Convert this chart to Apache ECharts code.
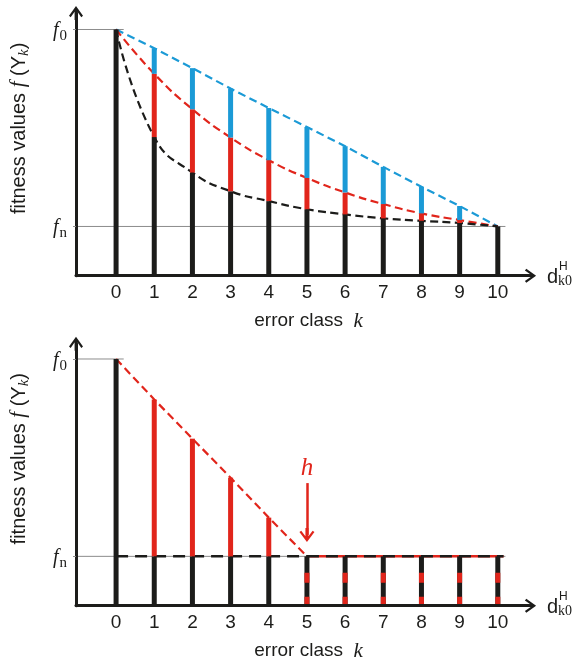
<!DOCTYPE html>
<html><head><meta charset="utf-8">
<script src="https://cdn.jsdelivr.net/npm/echarts@6/dist/echarts.min.js"></script>
<style>html,body{margin:0;padding:0;background:#fff}#c{width:574px;height:666px}</style>
</head><body><div id="c"></div>
<script>
// ---- data ----
const kValues = [0, 1, 2, 3, 4, 5, 6, 7, 8, 9, 10];
const tickLabels = ['0', '1', '2', '3', '4', '5', '6', '7', '8', '9', '10'];
const f0 = 10;
const fn = 2;
// top panel
const topBlue  = [10, 9.24, 8.43, 7.60, 6.81, 6.04, 5.26, 4.42, 3.61, 2.83, 2.0];
const topRed   = [10, 8.20, 6.76, 5.61, 4.69, 3.97, 3.38, 2.91, 2.53, 2.26, 2.0];
const topBlack = [10, 5.63, 4.19, 3.43, 3.03, 2.70, 2.49, 2.33, 2.23, 2.14, 2.0];
// bottom panel
const botK   = [0, 1, 2, 3, 4, 5];
const botRed = [10, 8.36, 6.77, 5.19, 3.57, 2.0];
const hIndex = 5;
const hArrow = [4.97, 2.87];

// ---- style ----
const BLACK = '#1c1c1a', RED = '#e1251b', BLUE = '#1b9ad6', GRAY = '#8c8c8c';
const SANS = '"Liberation Sans", Arial, sans-serif';
const SERIF = '"Liberation Serif", "Times New Roman", serif';
const CHEV = 'path://M50,0 L100,70 L88,80 L50,26 L12,80 L0,70 Z M40,20 L60,20 L60,100 L40,100 Z';
const xMin = -1.05, xMax = 10.82;

function xAxisCfg(gi) {
  return {
    gridIndex: gi, type: 'value', min: xMin, max: xMax, z: 10,
    axisLine: { show: true, onZero: false, symbol: ['none', CHEV], symbolSize: [15, 14], lineStyle: { color: BLACK, width: 3 } },
    axisTick: { show: false }, splitLine: { show: false },
    axisLabel: { customValues: kValues, formatter: v => tickLabels[Math.round(v)], color: BLACK, fontFamily: SANS, fontSize: 19, margin: 8 },
    name: '{t|error class  }{k|k}', nameLocation: 'middle', nameGap: 35,
    nameTextStyle: { padding: [0, 0, 0, 12], rich: {
      t: { fontFamily: SANS, fontSize: 19, color: BLACK },
      k: { fontFamily: SERIF, fontStyle: 'italic', fontSize: 21, color: BLACK } } }
  };
}
function yAxisCfg(gi, yMax) {
  return {
    gridIndex: gi, type: 'value', min: 0, max: yMax, z: 10,
    axisLine: { show: true, onZero: false, symbol: ['none', CHEV], symbolSize: [15, 14], lineStyle: { color: BLACK, width: 3 } },
    axisTick: { show: true, customValues: [fn, f0], length: 3, lineStyle: { color: GRAY, width: 1 } },
    splitLine: { show: false },
    axisLabel: { customValues: [fn, f0], margin: 9,
      formatter: v => (v === f0 ? '{f|f}{s|0}' : '{f|f}{s|n}'),
      rich: {
        f: { fontFamily: SERIF, fontStyle: 'italic', fontSize: 20, color: BLACK, verticalAlign: 'bottom', padding: [6, 0, 3, 0] },
        s: { fontFamily: SERIF, fontSize: 15, color: BLACK, verticalAlign: 'bottom', padding: [0, 0, 0, 1] } } },
    name: '{t|fitness values }{f|f}{t| (Y}{k|k}{t|)}', nameLocation: 'middle', nameRotate: 90, nameGap: 44,
    nameTextStyle: { padding: [0, 0, 0, 32], rich: {
      t: { fontFamily: SANS, fontSize: 20, color: BLACK, verticalAlign: 'bottom', padding: [0, 0, 3, 0] },
      f: { fontFamily: SERIF, fontStyle: 'italic', fontSize: 21, color: BLACK, verticalAlign: 'bottom', padding: [0, 0, 3, 0] },
      k: { fontFamily: SERIF, fontStyle: 'italic', fontSize: 15, color: BLACK, verticalAlign: 'bottom' } } }
  };
}
function refLine(gi, y, xEnd) {
  return { type: 'line', xAxisIndex: gi, yAxisIndex: gi, data: [[xMin, y], [xEnd, y]], symbol: 'none', silent: true,
    lineStyle: { color: GRAY, width: 1 }, z: 1 };
}
function dashLine(gi, xs, ys, color, smooth, dash, z, width) {
  return { type: 'line', xAxisIndex: gi, yAxisIndex: gi, data: xs.map((x, i) => [x, ys[i]]), symbol: 'none', silent: true,
    smooth: smooth, lineStyle: { color: color, width: width || 2.2, type: dash }, z: z };
}
function barSeries(gi, data, color) {
  return { type: 'custom', xAxisIndex: gi, yAxisIndex: gi, silent: true, z: 4, data: data,
    encode: { x: 0, y: [1, 2] },
    renderItem: (params, api) => {
      const k = api.value(0);
      const p0 = api.coord([k, api.value(1)]), p1 = api.coord([k, api.value(2)]);
      return { type: 'rect', shape: { x: p0[0] - 2.5, y: p1[1], width: 5, height: p0[1] - p1[1] }, style: { fill: color } };
    } };
}
function seg(lo, hi) {
  const out = [];
  kValues.forEach((k, i) => { if (hi[i] > lo[i] + 1e-6) out.push([k, lo[i], hi[i]]); });
  return out;
}
const zeros = kValues.map(() => 0);

// bottom panel bars
const botBlackSolid = [[0, 0, f0]];
const botRedBars = [];
for (let i = 1; i < hIndex; i++) { botBlackSolid.push([kValues[i], 0, fn]); botRedBars.push([kValues[i], fn, botRed[i]]); }
const botDashed = kValues.filter(k => k >= hIndex).map(k => [k, fn]);

const chart = echarts.init(document.getElementById('c'), null, { renderer: 'canvas' });
chart.setOption({
  animation: false,
  backgroundColor: '#fff',
  grid: [
    { left: 74.8, top: 13, width: 454.3, height: 262.7 },
    { left: 74.8, top: 343.7, width: 454.3, height: 262 }
  ],
  xAxis: [xAxisCfg(0), xAxisCfg(1)],
  yAxis: [yAxisCfg(0, 10.67), yAxisCfg(1, 10.62)],
  series: [
    // top panel
    refLine(0, f0, 0.2),
    refLine(0, fn, 10.2),
    dashLine(0, kValues, topBlue, BLUE, false, [8, 4.5], 2),
    dashLine(0, kValues, topRed, RED, 0.5, [8, 4.5], 2),
    dashLine(0, kValues, topBlack, BLACK, 0.5, [8, 4.5], 2),
    barSeries(0, seg(zeros, topBlack), BLACK),
    barSeries(0, seg(topBlack, topRed), RED),
    barSeries(0, seg(topRed, topBlue), BLUE),
    // bottom panel
    refLine(1, f0, 0.2),
    refLine(1, fn, 10.2),
    dashLine(1, [0, hIndex], [fn, fn], BLACK, false, [12, 7], 3, 2.5),
    dashLine(1, [hIndex, 10.15], [fn, fn], RED, false, 'solid', 3, 2.5),
    dashLine(1, [hIndex, 10.15], [fn, fn], BLACK, false, [12, 7], 3, 2.5),
    Object.assign(dashLine(1, botK, botRed, RED, false, [8, 4.5], 2), {
      markLine: {
        silent: true, symbol: ['none', CHEV], symbolSize: [15, 14],
        lineStyle: { color: RED, width: 2.5, type: 'solid' },
        label: { show: true, position: 'start', formatter: 'h', color: RED, fontFamily: SERIF, fontStyle: 'italic', fontSize: 25, distance: 2 },
        emphasis: { disabled: true },
        data: [[{ coord: [hIndex, hArrow[0]] }, { coord: [hIndex, hArrow[1]] }]]
      }
    }),
    barSeries(1, botBlackSolid, BLACK),
    barSeries(1, botRedBars, RED),
    { type: 'custom', xAxisIndex: 1, yAxisIndex: 1, silent: true, z: 4, data: botDashed, encode: { x: 0, y: 1 },
      renderItem: (params, api) => {
        const k = api.value(0);
        const p0 = api.coord([k, 0]), p1 = api.coord([k, api.value(1)]);
        const shape = { x1: p0[0], y1: p0[1], x2: p1[0], y2: p1[1] };
        return { type: 'group', children: [
          { type: 'line', shape: shape, style: { stroke: BLACK, lineWidth: 5 } },
          { type: 'line', shape: shape, style: { stroke: RED, lineWidth: 5, lineDash: [9, 14, 10, 100] } }
        ] };
      } }
  ],
  graphic: [0, 330].flatMap(dy => [
    { type: 'text', x: 547, y: 277 + dy, style: { text: 'd', fontFamily: SANS, fontSize: 20, fill: BLACK, verticalAlign: 'middle' } },
    { type: 'text', x: 559, y: 267 + dy, style: { text: 'H', fontFamily: SANS, fontSize: 12, fill: BLACK, verticalAlign: 'middle' } },
    { type: 'text', x: 558, y: 281.5 + dy, style: { text: 'k0', fontFamily: SERIF, fontSize: 14, fill: BLACK, verticalAlign: 'middle' } }
  ])
});
</script>
</body></html>
